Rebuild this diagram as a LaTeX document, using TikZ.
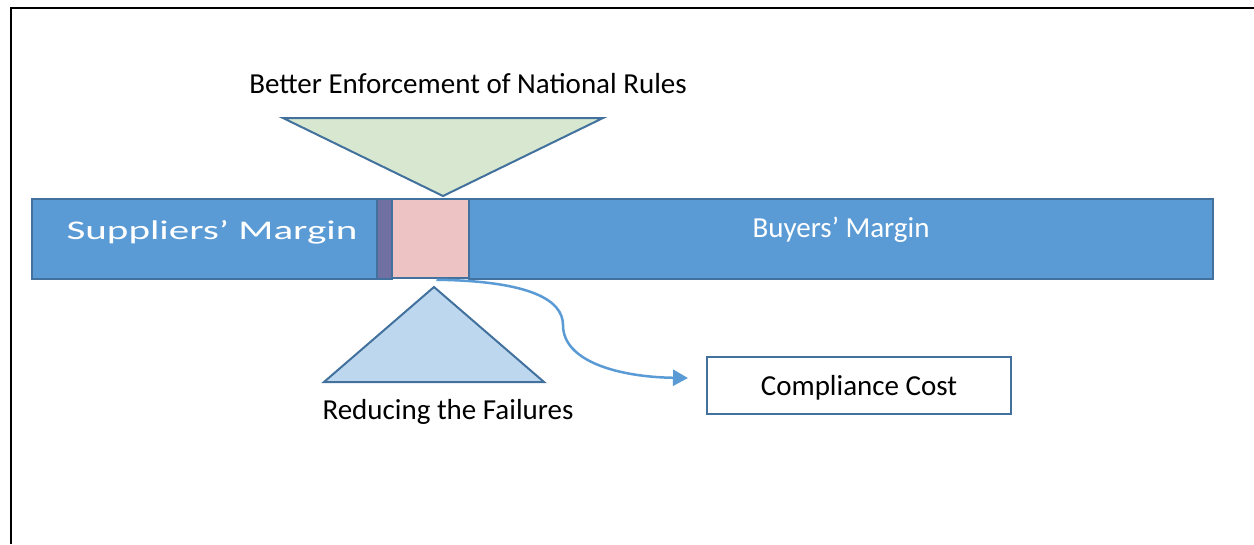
\documentclass[tikz,border=0pt]{standalone}
\usepackage{fontspec}
\setmainfont{Carlito}
\usetikzlibrary{calc,arrows.meta}
\definecolor{barblue}{HTML}{5B9BD5}
\definecolor{edgeblue}{HTML}{41719C}
\definecolor{leafgreen}{HTML}{D8E8D0}
\definecolor{paleblue}{HTML}{BDD7EE}
\definecolor{rosefill}{HTML}{EEC3C4}
\definecolor{stripfill}{HTML}{7070A2}
\tikzset{
  bar/.style={draw=edgeblue, line width=2.5pt, fill=barblue, inner sep=0pt},
  wedge/.style={draw=edgeblue, line width=2pt, line join=miter},
  label/.style={inner sep=0pt, anchor=base, font=\fontsize{29}{34}\selectfont},
  costbox/.style={draw=edgeblue, line width=2pt, fill=white, inner sep=0pt,
    minimum width=304pt, minimum height=57pt},
  flow/.style={draw=barblue, line width=2.5pt,
    -{Triangle[length=15pt, width=16pt]}},
  frameline/.style={draw=black, line width=2.2pt}
}
\begin{document}
\begin{tikzpicture}[x=1pt, y=-1pt]
  \useasboundingbox (0,0) rectangle (1254,544);
  \fill[white] (0,0) rectangle (1254,544);
  % page frame (top and left edges)
  \draw[frameline] (11,544) -- (11,8) -- (1254,8);

  % the margin bar
  \node[bar, minimum width=346pt, minimum height=80pt] (sup) at (205,239) {};
  \node[bar, minimum width=744pt, minimum height=80pt] (buy) at (841,239) {};
  \node[bar, fill=stripfill, minimum width=15pt, minimum height=80pt] (strip) at (384.5,239) {};
  \node[bar, fill=rosefill, minimum width=77pt, minimum height=79pt] (pink) at (430.5,238.5) {};

  \node[label, text=white] (suptext) at (212,239)
    {\scalebox{1.52}[1]{\fontsize{27}{32}\selectfont Suppliers’ Margin}};
  \node[label, text=white] (buytext) at (841,237) {Buyers’ Margin};

  % downward wedge from above
  \draw[wedge, fill=leafgreen] (283,118) -- (603,118) -- (443,196) -- cycle;
  \node[label] (enforce) at (468,93) {Better Enforcement of National Rules};

  % upward wedge from below
  \draw[wedge, fill=paleblue] (434,287) -- (544,382) -- (324,382) -- cycle;
  \node[label] (reduce) at (448,419) {Reducing the Failures};

  % compliance cost
  \node[costbox] (cost) at (859,385.5) {};
  \node[label] (costtext) at (859,395) {Compliance Cost};
  \coordinate (costin) at ($(cost.west)+(-18,-7.5)$);
  \draw[flow] ($(pink.south)+(6,0.5)$)
    .. controls (530,281) and (563,300) .. (563,325)
    .. controls (563,362) and (620,377) .. (costin);
\end{tikzpicture}
\end{document}
